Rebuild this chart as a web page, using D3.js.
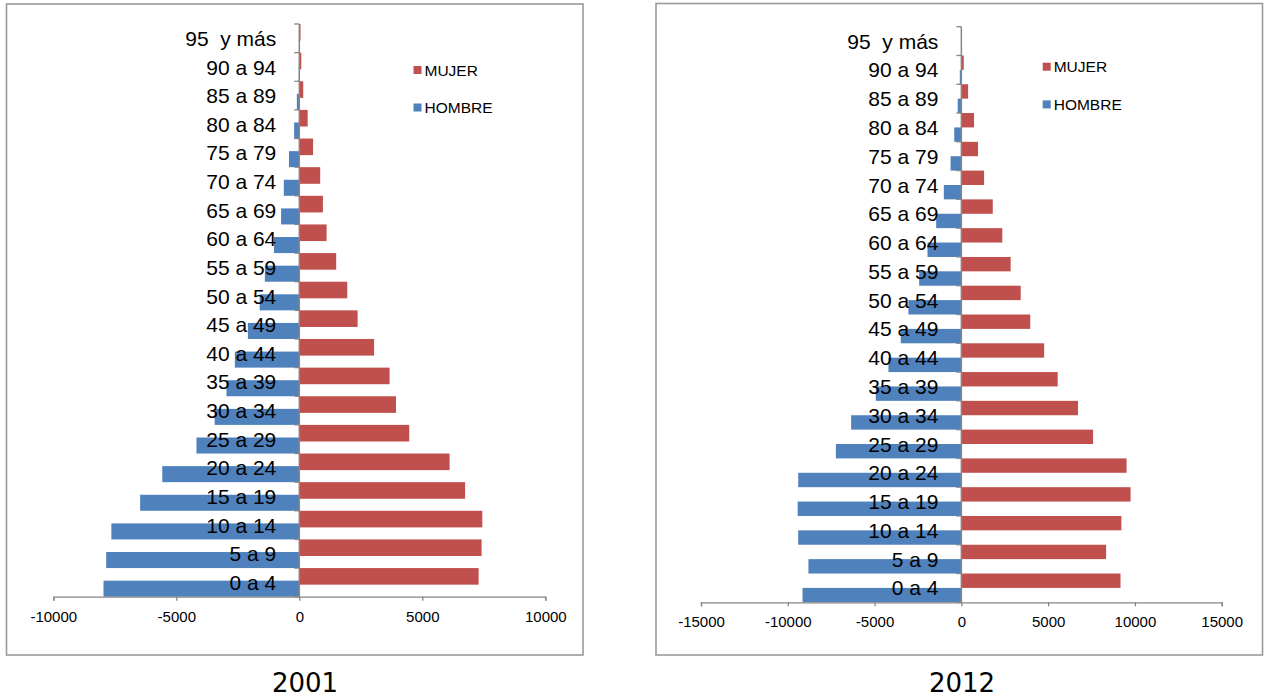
<!DOCTYPE html>
<html>
<head>
<meta charset="utf-8">
<script src="https://cdn.jsdelivr.net/npm/d3@7"></script>
<style>
  html, body { margin: 0; padding: 0; background: #fff; }
  svg { display: block; }
</style>
</head>
<body>
<svg id="chart" width="1264" height="698"></svg>
<script>
// ---------- DATA ----------
const categories = ["0 a 4","5 a 9","10 a 14","15 a 19","20 a 24","25 a 29","30 a 34","35 a 39","40 a 44","45 a 49","50 a 54","55 a 59","60 a 64","65 a 69","70 a 74","75 a 79","80 a 84","85 a 89","90 a 94","95  y más"];

const mujer2001  = [7290, 7410, 7440, 6740, 6110, 4470, 3930, 3670, 3040, 2370, 1950, 1500, 1110, 960, 850, 560, 340, 160, 80, 50];
const hombre2001 = [-7960, -7850, -7640, -6470, -5570, -4180, -3440, -2960, -2620, -2090, -1610, -1400, -1030, -740, -630, -420, -210, -100, -20, -10];

const mujer2012  = [9170, 8340, 9220, 9750, 9520, 7590, 6720, 5550, 4770, 3970, 3420, 2840, 2360, 1810, 1310, 960, 730, 390, 140, 30];
const hombre2012 = [-9150, -8810, -9400, -9430, -9400, -7230, -6350, -4930, -4200, -3490, -3050, -2430, -1950, -1450, -1010, -620, -410, -210, -90, -10];

const ticks2001 = [-10000, -5000, 0, 5000, 10000];
const ticks2012 = [-15000, -10000, -5000, 0, 5000, 10000, 15000];

const seriesNames = ["MUJER", "HOMBRE"];
const titles = ["2001", "2012"];

// ---------- STYLE ----------
const RED = "#C0504D", BLUE = "#4F81BD", AXIS = "#868686", FRAME = "#9a9a9a";
const LABEL_FONT = "'Liberation Sans', Arial, sans-serif";

const svg = d3.select("#chart");

function pyramid(opt) {
  const g = svg.append("g");
  // frame
  g.append("rect")
    .attr("x", opt.frame[0]).attr("y", opt.frame[1])
    .attr("width", opt.frame[2] - opt.frame[0]).attr("height", opt.frame[3] - opt.frame[1])
    .attr("fill", "#fff").attr("stroke", FRAME).attr("stroke-width", 1.6);

  const x = d3.scaleLinear().domain(opt.domain).range(opt.xRange);
  const y = d3.scaleBand().domain(categories.slice().reverse()).range([opt.top, opt.bottom]).padding(0);
  const bw = y.bandwidth();

  // bars: mujer
  g.selectAll(".m").data(categories).enter().append("rect")
    .attr("x", x(0))
    .attr("y", (d) => y(d) + opt.red[0] * bw)
    .attr("width", (d, i) => Math.max(0, x(opt.mujer[i]) - x(0)))
    .attr("height", (opt.red[1] - opt.red[0]) * bw)
    .attr("fill", RED);
  // bars: hombre
  g.selectAll(".h").data(categories).enter().append("rect")
    .attr("x", (d, i) => x(opt.hombre[i]))
    .attr("y", (d) => y(d) + opt.blue[0] * bw)
    .attr("width", (d, i) => Math.max(0, x(0) - x(opt.hombre[i])))
    .attr("height", (opt.blue[1] - opt.blue[0]) * bw)
    .attr("fill", BLUE);

  // horizontal axis
  const ax = g.append("g")
    .attr("transform", `translate(0,${opt.bottom})`)
    .call(d3.axisBottom(x).tickValues(opt.ticks).tickFormat(d => String(d))
      .tickSize(4).tickSizeOuter(4).tickPadding(10.5));
  ax.select(".domain").attr("stroke", AXIS).attr("stroke-width", 1.3);
  ax.selectAll(".tick line").attr("stroke", AXIS).attr("stroke-width", 1.3);
  ax.selectAll(".tick text").attr("fill", "#000")
    .style("font-family", LABEL_FONT).style("font-size", "15px");

  // vertical axis at zero
  const x0 = x(0);
  g.append("line").attr("x1", x0).attr("x2", x0).attr("y1", opt.top).attr("y2", opt.bottom)
    .attr("stroke", AXIS).attr("stroke-width", 1.5);
  const bounds = y.domain().map(d => y(d)).concat([opt.bottom]);
  g.selectAll(".vt").data(bounds).enter().append("line")
    .attr("x1", x0 - 5).attr("x2", x0).attr("y1", d => d).attr("y2", d => d)
    .attr("stroke", AXIS).attr("stroke-width", 1.3);

  // category labels
  g.selectAll(".cl").data(categories).enter().append("text")
    .attr("x", x0 - 23)
    .attr("y", d => y(d) + bw / 2)
    .attr("dy", "0.36em")
    .attr("text-anchor", "end")
    .style("white-space", "pre")
    .style("font-family", LABEL_FONT).style("font-size", "21px")
    .attr("fill", "#000")
    .text(d => d);

  // legend
  const colors = [RED, BLUE];
  seriesNames.forEach((name, i) => {
    const ly = opt.legend[1] + i * opt.legend[2];
    g.append("rect").attr("x", opt.legend[0]).attr("y", ly - 4).attr("width", 8).attr("height", 8)
      .attr("fill", colors[i]);
    g.append("text").attr("x", opt.legend[0] + 11).attr("y", ly).attr("dy", "0.36em")
      .style("font-family", LABEL_FONT).style("font-size", "15.5px").attr("fill", "#000")
      .text(name);
  });

  // title below
  svg.append("text").attr("x", opt.titlePos[0]).attr("y", opt.titlePos[1])
    .attr("text-anchor", "middle")
    .style("font-family", "Verdana, 'DejaVu Sans', sans-serif").style("font-size", "26px")
    .attr("fill", "#000")
    .text(opt.title);
}

pyramid({
  frame: [6.5, 4, 583, 655],
  domain: [-10000, 10000], xRange: [53.3, 545.3],
  top: 24, bottom: 596.7,
  mujer: mujer2001, hombre: hombre2001, ticks: ticks2001,
  red: [0, 0.58], blue: [0.44, 1.0],
  legend: [413.5, 70, 37.5],
  title: titles[0], titlePos: [305, 692]
});

pyramid({
  frame: [656, 3.5, 1262.5, 655],
  domain: [-15000, 15000], xRange: [701, 1221.7],
  top: 26.7, bottom: 602.3,
  mujer: mujer2012, hombre: hombre2012, ticks: ticks2012,
  red: [0, 0.5], blue: [0.5, 1.0],
  legend: [1042.7, 66.7, 37.7],
  title: titles[1], titlePos: [962, 692]
});
</script>
</body>
</html>
